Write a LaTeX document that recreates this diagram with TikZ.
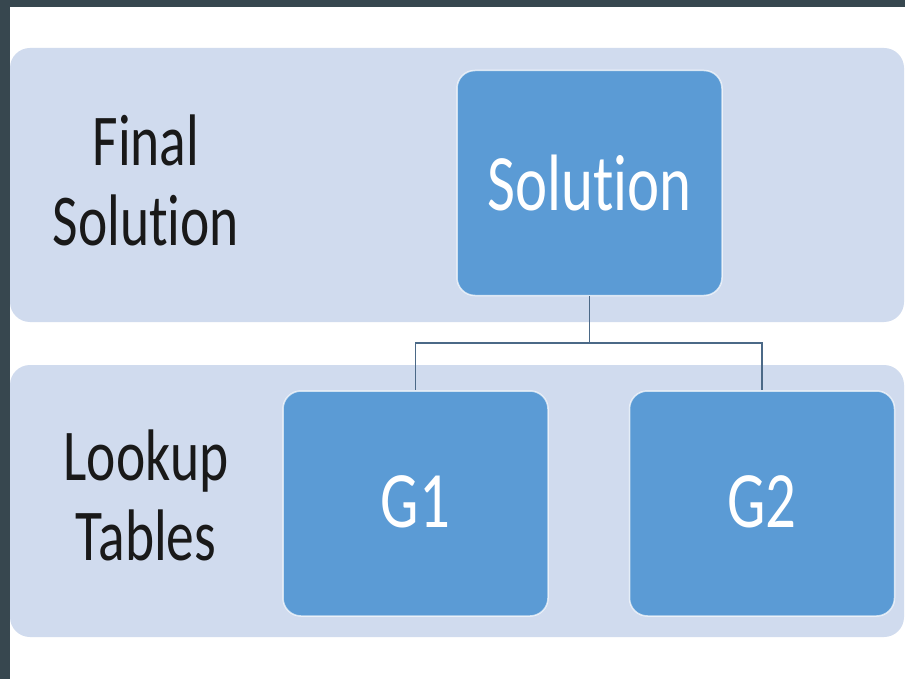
\documentclass[tikz,border=0pt]{standalone}
\usepackage{fontspec}
\newfontfamily\cf[FakeStretch=0.76,Ligatures=NoCommon]{Carlito}
\definecolor{frame}{RGB}{55,71,79}
\definecolor{bandfill}{RGB}{208,219,238}
\definecolor{boxfill}{RGB}{91,155,213}
\definecolor{linkcol}{RGB}{75,105,135}
\begin{document}
\begin{tikzpicture}[x=1pt,y=-1pt,
  band/.style={fill=bandfill, draw=none, rounded corners=20pt},
  bluebox/.style={fill=boxfill, draw=white, draw opacity=0.7, line width=1.5pt,
    rounded corners=18pt, minimum width=265pt, minimum height=225pt,
    text=white, font=\cf\fontsize{80}{88}\selectfont, inner sep=0pt},
  lbl/.style={text=black!90, align=center, font=\cf\fontsize{73}{80}\selectfont, inner sep=0pt, anchor=base},
  link/.style={draw=linkcol, line width=1.8pt}]
\useasboundingbox (0,0) rectangle (905,679);
\fill[white] (0,0) rectangle (905,679);
\fill[frame] (0,0) rectangle (905,7);
\fill[frame] (0,0) rectangle (10,679);
\fill[band] (10,48) rectangle (904,322);
\fill[band] (10,365) rectangle (904,637);
\node[lbl] (lab1) at (146,246) {Final\\Solution};
\node[lbl] (lab2) at (146,560) {Lookup\\Tables};
\node[bluebox] (sol) at (589.5,183) {Solution};
\node[bluebox] (g1) at (415.5,503.5) {\raisebox{3pt}{G1}};
\node[bluebox] (g2) at (762,503.5) {\raisebox{3pt}{G2}};
\coordinate (jn) at (589.5,343);
\draw[link] (sol.south) -- (jn) -| (g1.north);
\draw[link] (jn) -| (g2.north);
\end{tikzpicture}
\end{document}
